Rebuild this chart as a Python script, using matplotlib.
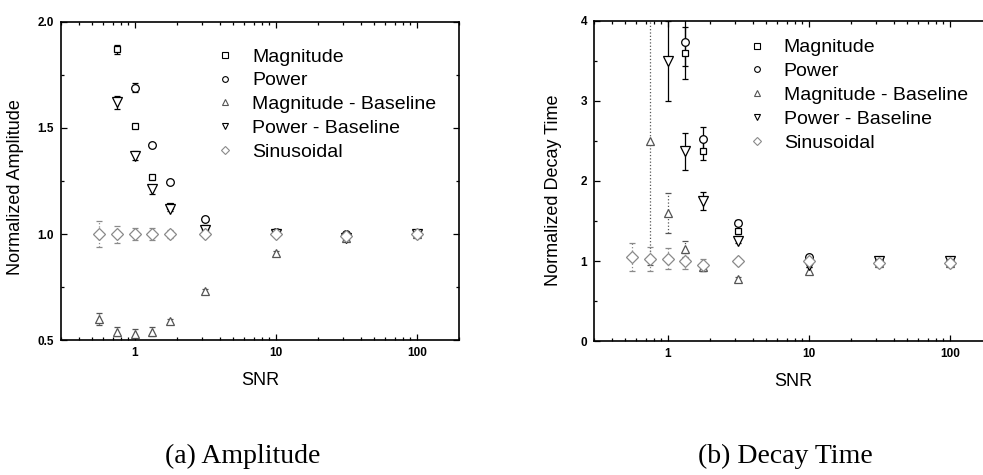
import numpy as np
import matplotlib.pyplot as plt
from matplotlib.ticker import MultipleLocator, LogLocator, NullFormatter, FixedLocator, FixedFormatter
from matplotlib.lines import Line2D

plt.rcParams['font.family'] = ['Liberation Sans', 'DejaVu Sans']

nan = np.nan
snr = [0.562, 0.75, 1.0, 1.33, 1.78, 3.16, 10, 31.6, 100]

# normalized amplitude
amp_mag = [nan, 1.87, 1.51, 1.27, 1.13, 1.03, 1.01, 0.99, 1.0]
amp_mag_err = [0, 0.02, 0.01, 0.01, 0.01, 0.01, 0.01, 0.01, 0.01]
amp_pow = [nan, nan, 1.69, 1.42, 1.245, 1.07, 1.01, 1.0, 1.0]
amp_pow_err = [0, 0, 0.02, 0.01, 0.01, 0.01, 0.01, 0.01, 0.01]
amp_mb = [0.60, 0.54, 0.53, 0.54, 0.59, 0.73, 0.91, 0.98, 1.0]
amp_mb_err = [0.03, 0.02, 0.02, 0.02, 0.01, 0.01, 0.01, 0.01, 0.01]
amp_pb = [nan, 1.62, 1.37, 1.21, 1.12, 1.02, 1.0, 0.98, 1.0]
amp_pb_err = [0, 0.03, 0.02, 0.02, 0.01, 0.01, 0.01, 0.01, 0.01]
amp_sin = [1.0, 1.0, 1.0, 1.0, 1.0, 1.0, 1.0, 0.99, 1.0]
amp_sin_err = [0.06, 0.04, 0.03, 0.03, 0.02, 0.01, 0.01, 0.01, 0.01]

# normalized decay time
dec_mag = [nan, nan, nan, 3.6, 2.38, 1.37, 1.0, 0.98, 0.98]
dec_mag_err = [0, 0, 0, 0.32, 0.12, 0.03, 0.02, 0.02, 0.02]
dec_pow = [nan, nan, nan, 3.74, 2.53, 1.48, 1.05, 1.0, 0.99]
dec_pow_err = [0, 0, 0, 0.3, 0.15, 0.03, 0.02, 0.02, 0.02]
dec_mb = [nan, 2.5, 1.6, 1.15, 0.92, 0.77, 0.88, 0.97, 0.98]
dec_mb_err = [0, 1.55, 0.25, 0.1, 0.05, 0.03, 0.04, 0.02, 0.02]
dec_pb = [nan, nan, 3.5, 2.37, 1.75, 1.25, 0.95, 1.0, 1.0]
dec_pb_err = [0, 0, 0.5, 0.23, 0.11, 0.03, 0.03, 0.02, 0.02]
dec_sin = [1.05, 1.03, 1.03, 1.0, 0.95, 1.0, 1.0, 0.98, 0.98]
dec_sin_err = [0.17, 0.15, 0.13, 0.1, 0.07, 0.03, 0.03, 0.02, 0.02]

labels = ["Magnitude", "Power", "Magnitude - Baseline", "Power - Baseline", "Sinusoidal"]
markers = ["s", "o", "^", "v", "D"]
sizes = [5, 5.5, 6, 6.5, 6]
colors = ["black", "black", "#555555", "black", "#8a8a8a"]
dotted = [False, False, True, False, True]


def draw(ax, series, legend_anchor):
    for (y, e), m, ms, c, d in zip(series, markers, sizes, colors, dotted):
        _, caps, bars = ax.errorbar(snr, y, yerr=e, fmt=m, ms=ms, mfc="white",
                                    mec=c, mew=0.9, ecolor=c, elinewidth=0.9,
                                    capsize=2.5, capthick=0.9, clip_on=True)
        if d:
            for b in bars:
                b.set_linestyle(":")
    ax.set_xscale("log")
    ax.set_xlim(0.3, 200)
    ax.xaxis.set_major_locator(FixedLocator([1, 10, 100]))
    ax.xaxis.set_major_formatter(FixedFormatter(["1", "10", "100"]))
    ax.xaxis.set_minor_locator(LogLocator(base=10, subs=np.arange(2, 10)))
    ax.xaxis.set_minor_formatter(NullFormatter())
    ax.tick_params(which="both", direction="in", top=True, right=True,
                   width=0.9, labelsize=8.5)
    ax.tick_params(which="major", length=4.5, pad=5)
    ax.tick_params(which="minor", length=2.5)
    for lab in ax.get_xticklabels() + ax.get_yticklabels():
        lab.set_fontweight("bold")
    for s in ax.spines.values():
        s.set_linewidth(1.2)
    ax.set_xlabel("SNR", fontsize=13)
    ax.xaxis.set_label_coords(0.5, -0.1)

    handles = [Line2D([], [], ls="none", marker=m, ms=ms * 0.75, mfc="white",
                      mec=c, mew=0.8) for m, ms, c in zip(markers, sizes, colors)]
    ax.legend(handles, labels, loc="upper left", bbox_to_anchor=legend_anchor,
              frameon=False, fontsize=14, handlelength=1.0, handletextpad=0.9,
              labelspacing=0.32, borderpad=0, borderaxespad=0)


fig = plt.figure(figsize=(9.83, 4.75), dpi=100)
ax1 = fig.add_axes([0.0621, 0.284, 0.405, 0.67])
ax2 = fig.add_axes([0.6043, 0.282, 0.405, 0.674])

draw(ax1, [(amp_mag, amp_mag_err), (amp_pow, amp_pow_err), (amp_mb, amp_mb_err),
           (amp_pb, amp_pb_err), (amp_sin, amp_sin_err)], (0.387, 0.918))
ax1.set_ylim(0.5, 2.0)
ax1.yaxis.set_major_locator(MultipleLocator(0.5))
ax1.yaxis.set_minor_locator(MultipleLocator(0.25))
ax1.set_yticks([0.5, 1.0, 1.5, 2.0], ["0.5", "1.0", "1.5", "2.0"], fontweight="bold")
ax1.set_ylabel("Normalized Amplitude", fontsize=13)
ax1.yaxis.set_label_coords(-0.093, 0.48)

draw(ax2, [(dec_mag, dec_mag_err), (dec_pow, dec_pow_err), (dec_mb, dec_mb_err),
           (dec_pb, dec_pb_err), (dec_sin, dec_sin_err)], (0.384, 0.944))
ax2.set_ylim(0, 4)
ax2.yaxis.set_minor_locator(MultipleLocator(0.5))
ax2.set_yticks([0, 1, 2, 3, 4], ["0", "1", "2", "3", "4"], fontweight="bold")
ax2.set_ylabel("Normalized Decay Time", fontsize=13)
ax2.yaxis.set_label_coords(-0.08, 0.47)

fig.text(0.247, 0.04, "(a) Amplitude", family="Liberation Serif", fontsize=20,
         ha="center", va="center")
fig.text(0.7986, 0.04, "(b) Decay Time", family="Liberation Serif", fontsize=20,
         ha="center", va="center")

fig.savefig("out.png", dpi=100)
